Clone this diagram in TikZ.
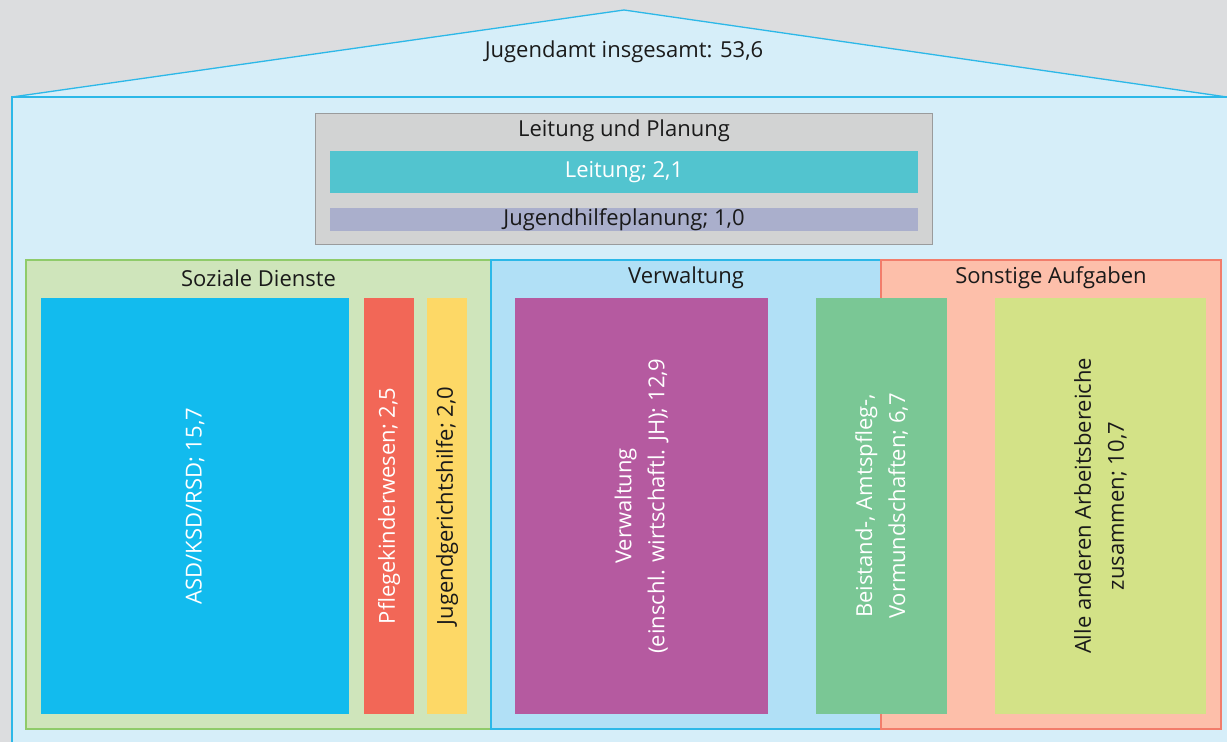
\documentclass[tikz,border=0pt]{standalone}
\usepackage{fontspec}
\setmainfont{Open Sans}
\definecolor{bgGray}{HTML}{DCDDDF}
\definecolor{houseFill}{HTML}{D6EEF9}
\definecolor{houseLine}{HTML}{2CB8E8}
\definecolor{lpFill}{HTML}{D2D3D3}
\definecolor{lpLine}{HTML}{9A9B9C}
\definecolor{leitFill}{HTML}{52C4CF}
\definecolor{jhpFill}{HTML}{AAAFCC}
\definecolor{sozFill}{HTML}{CFE5BB}
\definecolor{sozLine}{HTML}{8FCB6A}
\definecolor{verwFill}{HTML}{B1E0F6}
\definecolor{sonstFill}{HTML}{FDBFAA}
\definecolor{sonstLine}{HTML}{F27D6B}
\definecolor{asdFill}{HTML}{12BBEE}
\definecolor{pkwFill}{HTML}{F26757}
\definecolor{jghFill}{HTML}{FDD866}
\definecolor{vwFill}{HTML}{B55AA0}
\definecolor{beiFill}{HTML}{7AC795}
\definecolor{andFill}{HTML}{D3E287}
\definecolor{txtDark}{HTML}{1A1A1A}
\begin{document}
\begin{tikzpicture}[x=1pt,y=-1pt,
    every node/.style={inner sep=0pt, text=txtDark, font=\fontsize{22}{33}\selectfont},
    group/.style={rectangle, line width=1.3pt, minimum height=469pt},
    bar/.style={rectangle, rotate=90, align=center, minimum width=416pt}]
	% background and house
	\useasboundingbox (0,0) rectangle (1227,742);
	\fill[bgGray] (0,0) rectangle (1227,742);
	\filldraw[fill=houseFill, draw=houseLine, line width=1.3pt] (12,97) -- (624,10) -- (1227,97) -- cycle;
	\filldraw[fill=houseFill, draw=houseLine, line width=1.3pt] (12,97) rectangle (1245,760);
	\node (total) at (624,52) {Jugendamt insgesamt: 53,6};

	% Leitung und Planung
	\node[draw=lpLine, fill=lpFill, line width=1pt, minimum width=617pt, minimum height=131pt] (lp) at (623.5,178.5) {};
	\node (lptitle) at (624,131) {Leitung und Planung};
	\node[fill=leitFill, text=white, minimum width=588pt, minimum height=42pt] (leit) at (624,172) {Leitung; 2,1};
	\node[fill=jhpFill, minimum width=588pt, minimum height=21pt] (jhp) at (624,219.5) {Jugendhilfeplanung; 1,0};

	% groups
	\node[group, draw=sozLine, fill=sozFill, minimum width=465pt] (soz) at (258.5,494.5) {};
	\node[group, draw=houseLine, fill=verwFill, minimum width=390pt] (verw) at (686,494.5) {};
	\node[group, draw=sonstLine, fill=sonstFill, minimum width=340pt] (sonst) at (1051,494.5) {};
	\node (soztitle) at (258.5,278) {Soziale Dienste};
	\node (verwtitle) at (686,278) {Verwaltung};
	\node (sonsttitle) at (1051,278) {Sonstige Aufgaben};

	% Soziale Dienste
	\node[bar, fill=asdFill, text=white, minimum height=308pt] (asd) at (195,506) {ASD/KSD/RSD; 15,7};
	\node[bar, fill=pkwFill, text=white, minimum height=50pt] (pkw) at (389,506) {Pflegekinderwesen; 2,5};
	\node[bar, fill=jghFill, minimum height=40pt] (jgh) at (447,506) {Jugendgerichtshilfe; 2,0};

	% Verwaltung
	\node[bar, fill=vwFill, text=white, minimum height=253pt] (vw) at (641.5,506) {Verwaltung\\(einschl. wirtschaftl. JH); 12,9};
	\node[bar, fill=beiFill, text=white, minimum height=131pt] (bei) at (881.5,506) {Beistand-, Amtspfleg-,\\Vormundschaften; 6,7};

	% Sonstige Aufgaben
	\node[bar, fill=andFill, minimum height=211pt] (and) at (1100.5,506) {Alle anderen Arbeitsbereiche\\zusammen; 10,7};
\end{tikzpicture}
\end{document}
